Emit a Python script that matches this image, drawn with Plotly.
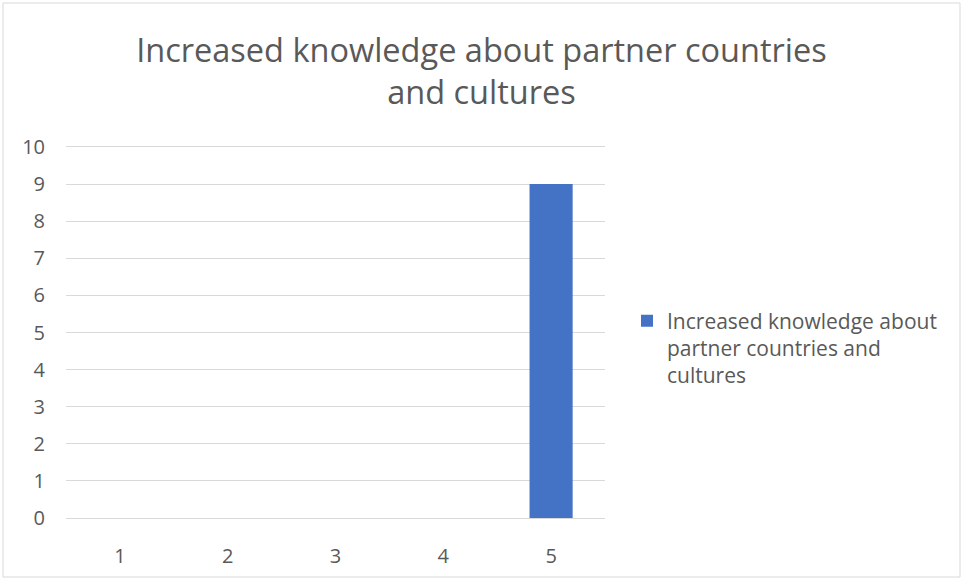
import plotly.graph_objects as go

categories = ["1", "2", "3", "4", "5"]
values = [0, 0, 0, 0, 9]
series_name = "Increased knowledge about<br>partner countries and<br>cultures"
title_text = "Increased knowledge about partner countries<br>and cultures"

W, H = 963, 580
ml, mr, mt, mb = 66, 358, 147, 62
pw, ph = W - ml - mr, H - mt - mb

def px_x(p):
    return (p - ml) / pw

def px_y(p):
    return (H - mb - p) / ph

fig = go.Figure()
fig.add_trace(go.Bar(
    x=categories, y=values, name=series_name,
    marker=dict(color="#4472C4", line=dict(width=0)),
    width=0.4, showlegend=True,
))

fig.update_layout(
    width=W, height=H,
    margin=dict(l=ml, r=mr, t=mt, b=mb),
    paper_bgcolor="white", plot_bgcolor="white",
    font=dict(family="Open Sans", color="#595959", size=20),
    title=dict(text=title_text, x=0.5, xref="container", xanchor="center",
               y=1 - 62 / H, yref="container", yanchor="top",
               font=dict(size=32.5, color="#595959", family="Open Sans")),
    showlegend=True,
    legend=dict(x=px_x(627), xanchor="left", y=px_y(348), yanchor="middle",
                font=dict(size=21, color="#595959"), itemwidth=30,
                valign="top", bgcolor="rgba(0,0,0,0)"),
    xaxis=dict(type="category", showgrid=False, showline=True, mirror=True,
               linecolor="#D9D9D9", linewidth=1, zeroline=False,
               ticks="", ticklabelstandoff=20, tickfont=dict(size=20)),
    yaxis=dict(range=[0, 10], tickvals=list(range(0, 11)), showgrid=True,
               gridcolor="#D9D9D9", gridwidth=1, zeroline=True,
               zerolinecolor="#D9D9D9", zerolinewidth=1, showline=False,
               ticks="", ticklabelstandoff=20, tickfont=dict(size=20)),
    shapes=[dict(type="rect", xref="paper", yref="paper",
                 x0=px_x(3), x1=px_x(960), y0=px_y(577), y1=px_y(3),
                 line=dict(color="#D9D9D9", width=1), layer="below")],
)

fig.write_html("out.html", config={"displayModeBar": False},
               post_script="document.body.style.margin='0';document.body.style.padding='0';")
